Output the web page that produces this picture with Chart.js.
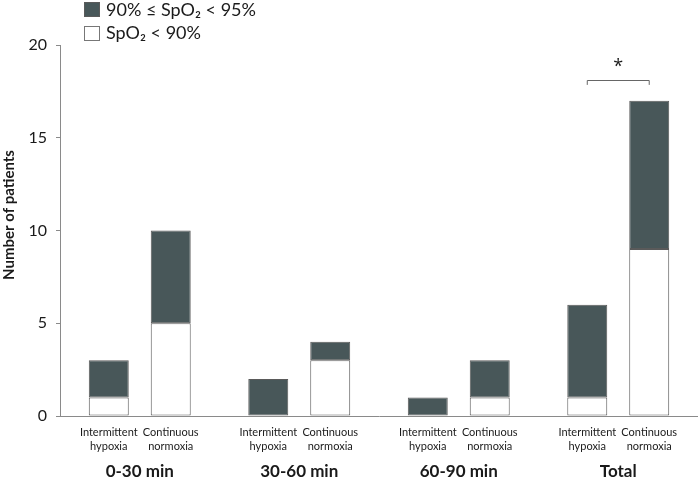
<!DOCTYPE html>
<html>
<head>
<meta charset="utf-8">
<script src="https://cdn.jsdelivr.net/npm/chart.js@4"></script>
<style>
  html,body{margin:0;padding:0;background:#fff;}
  #wrap{position:relative;width:698px;height:478px;}
</style>
</head>
<body>
<div id="wrap"><canvas id="c" width="698" height="478"></canvas></div>
<script>
// groups on the x axis
const groups=['0-30 min','30-60 min','60-90 min','Total'];
const subLabels=[['Intermittent','hypoxia'],['Continuous','normoxia']];
// counts per group: SpO2 < 90% (white) and 90% <= SpO2 < 95% (dark)
const ihLow=[1,0,0,1];
const ihMid=[2,2,1,5];
const cnLow=[5,3,1,9];
const cnMid=[5,1,2,8];
const yTicks=[0,5,10,15,20];
const legendLabels=['90% \u2264 SpO\u2082 < 95%','SpO\u2082 < 90%'];

const DARK='#485759', EDGE='#5a5a5a', AX='#8a8a8a', TXT='#1a1a1a';
const FONT='Lato, "Open Sans", sans-serif';

function ds(data,stack,fill){
  return {data,stack,backgroundColor:fill,borderColor:EDGE,borderWidth:1,
    borderSkipped:false,categoryPercentage:0.777,barPercentage:0.645};
}

// labels, legend and significance bracket
const extras={
  id:'extras',
  afterDraw(ch){
    const c=ch.ctx, y=ch.scales.y, x=ch.scales.x;
    c.save();
    // sub labels under each bar
    c.fillStyle=TXT; c.textAlign='center'; c.textBaseline='middle';
    c.font='11px '+FONT;
    [1,3].forEach((di,k)=>{
      ch.getDatasetMeta(di).data.forEach(b=>{
        c.fillText(subLabels[k][0],b.x,432);
        c.fillText(subLabels[k][1],b.x,446);
      });
    });
    c.font='bold 17px '+FONT;
    groups.forEach((g,i)=>c.fillText(g,x.getPixelForValue(i),472));
    // y title
    c.save();
    c.translate(9,215); c.rotate(-Math.PI/2);
    c.font='bold 15px '+FONT;
    c.fillText('Number of patients',0,0);
    c.restore();
    // legend
    c.textAlign='left'; c.font='18px '+FONT;
    c.fillStyle=DARK; c.fillRect(84.5,2.5,15,14);
    c.strokeStyle=EDGE; c.lineWidth=1; c.strokeRect(84.5,2.5,15,14);
    c.fillStyle='#fff'; c.fillRect(84.5,26.5,15,14);
    c.strokeStyle='#777'; c.strokeRect(84.5,26.5,15,14);
    c.fillStyle=TXT;
    c.fillText(legendLabels[0],106,10);
    c.fillText(legendLabels[1],106,33);
    // bracket over Total
    const a=ch.getDatasetMeta(1).data[3].x, b=ch.getDatasetMeta(3).data[3].x;
    const by=Math.round(y.getPixelForValue(18.1))+0.5, bt=y.getPixelForValue(17.85);
    c.strokeStyle='#666'; c.lineWidth=1;
    c.beginPath(); c.moveTo(a,bt); c.lineTo(a,by); c.lineTo(b,by); c.lineTo(b,bt); c.stroke();
    c.textAlign='center'; c.font='18px "Open Sans", sans-serif';
    c.fillText('*',(a+b)/2,y.getPixelForValue(18.85)+1);
    c.restore();
  }
};

new Chart(document.getElementById('c'),{
  type:'bar',
  data:{labels:groups,datasets:[
    ds(ihLow,'ih','#ffffff'),ds(ihMid,'ih',DARK),
    ds(cnLow,'cn','#ffffff'),ds(cnMid,'cn',DARK)
  ]},
  options:{
    responsive:false,animation:false,
    layout:{padding:{top:45,right:0,left:0,bottom:0}},
    plugins:{legend:{display:false},tooltip:{enabled:false}},
    scales:{
      x:{stacked:true,grid:{display:false},border:{color:AX,width:1},
         ticks:{display:false},afterFit:s=>{s.height=62;}},
      y:{stacked:true,min:0,max:20,
         afterBuildTicks:s=>{s.ticks=yTicks.map(v=>({value:v}));},
         grid:{drawOnChartArea:false,tickLength:4,color:AX},
         border:{color:AX,width:1},
         ticks:{color:TXT,padding:9,font:{family:FONT,size:16}},
         afterFit:s=>{s.width=60;}}
    }
  },
  plugins:[extras]
});
</script>
</body>
</html>
